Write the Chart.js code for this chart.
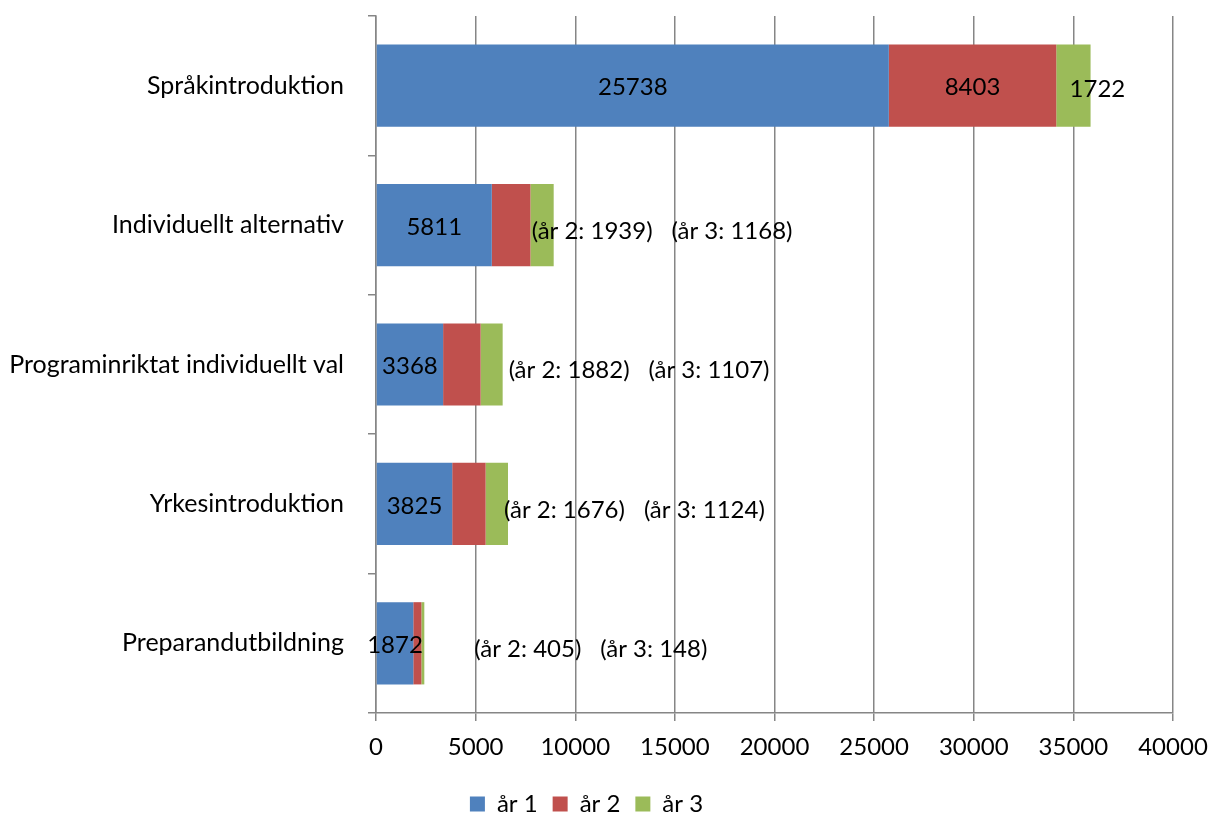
<!DOCTYPE html>
<html>
<head>
<meta charset="utf-8">
<script src="https://cdn.jsdelivr.net/npm/chart.js@4/dist/chart.umd.min.js"></script>
<style>
  html, body { margin: 0; padding: 0; background: #fff; }
  #wrap { width: 1210px; height: 813px; }
</style>
</head>
<body>
<div id="wrap"><canvas id="grafik"></canvas></div>
<script>
// ------------------------------------------------ DATA ------------------------------------------------

    const kategorier = ["Språkintroduktion", "Individuellt alternativ", "Programinriktat individuellt val", "Yrkesintroduktion", "Preparandutbildning"];
    const serier = ["år 1", "år 2", "år 3"];
    const ar1 = [25738, 5811, 3368, 3825, 1872];
    const ar2 = [8403, 1939, 1882, 1676, 405];
    const ar3 = [1722, 1168, 1107, 1124, 148];
    const xTicks = [0, 5000, 10000, 15000, 20000, 25000, 30000, 35000, 40000];

    const farger = ['#4F81BD', '#C0504D', '#9BBB59'];
    const typsnitt = "Lato, 'Liberation Sans', sans-serif";

    // var texterna "(år 2: ...)" hamnar, px från stapelns slut (flyttade för hand i originalet)
    const textForskjutning = [0, -22, 6, -4, 50];

// ------------------------------------------------ ETIKETTER ------------------------------------------------

    const etiketter = {
        id: 'etiketter',
        afterDatasetsDraw(chart) {
            const ctx = chart.ctx;
            const m0 = chart.getDatasetMeta(0).data;
            const m1 = chart.getDatasetMeta(1).data;
            const m2 = chart.getDatasetMeta(2).data;
            ctx.save();
            ctx.fillStyle = '#000';
            ctx.font = '24px ' + typsnitt;
            ctx.textBaseline = 'middle';
            kategorier.forEach((kat, i) => {
                const b0 = m0[i], b1 = m1[i], b2 = m2[i];
                ctx.textAlign = 'center';
                ctx.fillText(String(ar1[i]), (b0.x + b0.base) / 2, b0.y + 2);
                if (i === 0) {
                    ctx.fillText(String(ar2[i]), (b1.x + b1.base) / 2, b1.y + 2);
                    ctx.fillText(String(ar3[i]), (b2.x + b2.base) / 2 + 24, b2.y + 4);
                } else {
                    ctx.textAlign = 'left';
                    const t2 = '(år 2: ' + ar2[i] + ')';
                    const t3 = '(år 3: ' + ar3[i] + ')';
                    const x2 = b2.x + textForskjutning[i];
                    ctx.fillText(t2, x2, b2.y + 6);
                    ctx.fillText(t3, x2 + ctx.measureText(t2).width + 19, b2.y + 6);
                }
            });
            ctx.restore();
        }
    };

// ------------------------------------------------ DIAGRAM ------------------------------------------------

    const datasets = [ar1, ar2, ar3].map((d, k) => ({
        label: serier[k],
        data: d,
        backgroundColor: farger[k],
        borderWidth: 0,
        barPercentage: 0.59,
        categoryPercentage: 1
    }));

    const config = {
        type: 'bar',
        data: { labels: kategorier, datasets: datasets },
        options: {
            indexAxis: 'y',
            responsive: true,
            maintainAspectRatio: false,
            animation: false,
            layout: { padding: { top: 16, right: 37, left: 0, bottom: -13 } },
            scales: {
                x: {
                    stacked: true,
                    min: 0,
                    max: 40000,
                    afterBuildTicks: (s) => { s.ticks = xTicks.map(v => ({ value: v })); },
                    grid: { color: '#868686', lineWidth: 1.5, tickLength: 8 },
                    border: { color: '#868686', width: 1.5 },
                    ticks: {
                        color: '#000',
                        font: { size: 24, family: typsnitt },
                        padding: 12,
                        maxRotation: 0,
                        callback: (v) => String(v)
                    },
                    afterFit: (s) => { s.height = 64; s.paddingLeft = 0; s.paddingRight = 0; }
                },
                y: {
                    stacked: true,
                    grid: { drawOnChartArea: false, color: '#868686', lineWidth: 1.5, tickLength: 8 },
                    border: { color: '#868686', width: 1.5 },
                    ticks: { color: '#000', font: { size: 25, family: typsnitt }, padding: 24 },
                    afterFit: (s) => { s.width = 376; s.paddingTop = 0; s.paddingBottom = 0; }
                }
            },
            plugins: {
                legend: {
                    position: 'bottom',
                    labels: {
                        color: '#000',
                        font: { size: 24, family: typsnitt },
                        boxWidth: 15,
                        boxHeight: 15,
                        padding: 15
                    }
                },
                tooltip: { enabled: false }
            }
        },
        plugins: [etiketter]
    };

    var grafik = new Chart(document.getElementById('grafik'), config);
</script>
</body>
</html>
